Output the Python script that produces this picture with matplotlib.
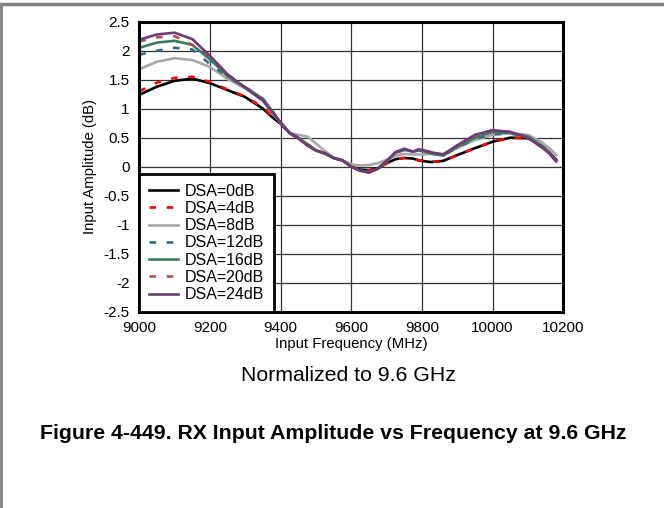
import numpy as np
import matplotlib
matplotlib.use("Agg")
from matplotlib import pyplot as plt
from matplotlib.lines import Line2D

plt.rcParams['font.family'] = ['Liberation Sans', 'DejaVu Sans']

freq = [9000, 9050, 9100, 9150, 9200, 9250, 9300, 9350, 9375, 9400, 9425, 9450, 9475,
        9500, 9525, 9550, 9575, 9600, 9625, 9650, 9675, 9700, 9725, 9750, 9775, 9790,
        9800, 9825, 9860, 9900, 9950, 10000, 10050, 10100, 10140, 10160, 10180]

dsa0 = [1.24, 1.38, 1.48, 1.52, 1.44, 1.32, 1.20, 1.00, 0.86, 0.74, 0.58, 0.49, 0.38,
        0.28, 0.23, 0.15, 0.11, 0.00, -0.05, -0.06, -0.03, 0.06, 0.13, 0.15, 0.14, 0.11,
        0.10, 0.08, 0.10, 0.20, 0.32, 0.43, 0.50, 0.49, 0.36, 0.25, 0.12]
dsa4 = [1.30, 1.45, 1.53, 1.55, 1.46, 1.33, 1.21, 1.02, 0.88, 0.75, 0.58, 0.49, 0.39,
        0.28, 0.23, 0.15, 0.11, 0.00, -0.04, -0.06, -0.03, 0.06, 0.13, 0.15, 0.14, 0.11,
        0.10, 0.08, 0.10, 0.20, 0.32, 0.43, 0.50, 0.49, 0.36, 0.25, 0.12]
dsa8 = [1.68, 1.81, 1.87, 1.84, 1.72, 1.51, 1.35, 1.14, 0.93, 0.76, 0.58, 0.55, 0.52,
        0.40, 0.27, 0.16, 0.11, 0.04, 0.02, 0.03, 0.06, 0.12, 0.19, 0.22, 0.21, 0.21,
        0.21, 0.22, 0.22, 0.32, 0.46, 0.55, 0.58, 0.55, 0.42, 0.32, 0.20]
dsa12 = [1.93, 2.00, 2.05, 2.02, 1.77, 1.55, 1.37, 1.17, 0.97, 0.76, 0.59, 0.50, 0.39,
         0.28, 0.23, 0.15, 0.11, 0.00, -0.07, -0.09, -0.04, 0.09, 0.24, 0.29, 0.26, 0.28,
         0.27, 0.23, 0.19, 0.33, 0.48, 0.56, 0.57, 0.52, 0.36, 0.24, 0.10]
dsa16 = [2.05, 2.14, 2.17, 2.10, 1.85, 1.56, 1.37, 1.17, 0.97, 0.76, 0.59, 0.50, 0.39,
         0.28, 0.23, 0.15, 0.11, 0.00, -0.07, -0.09, -0.04, 0.09, 0.24, 0.29, 0.26, 0.28,
         0.27, 0.23, 0.19, 0.34, 0.50, 0.60, 0.58, 0.52, 0.36, 0.24, 0.10]
dsa20 = [2.16, 2.23, 2.25, 2.10, 1.90, 1.59, 1.36, 1.14, 0.95, 0.76, 0.58, 0.49, 0.37,
         0.28, 0.23, 0.15, 0.11, 0.00, -0.07, -0.10, -0.03, 0.10, 0.25, 0.31, 0.26, 0.30,
         0.29, 0.25, 0.21, 0.36, 0.53, 0.62, 0.60, 0.50, 0.33, 0.23, 0.09]
dsa24 = [2.19, 2.28, 2.31, 2.20, 1.91, 1.59, 1.36, 1.14, 0.95, 0.76, 0.58, 0.49, 0.37,
         0.28, 0.23, 0.15, 0.11, 0.00, -0.07, -0.10, -0.03, 0.10, 0.25, 0.31, 0.26, 0.30,
         0.29, 0.25, 0.21, 0.37, 0.55, 0.63, 0.60, 0.50, 0.33, 0.23, 0.09]

labels = ["DSA=0dB", "DSA=4dB", "DSA=8dB", "DSA=12dB", "DSA=16dB", "DSA=20dB", "DSA=24dB"]
series = [dsa0, dsa4, dsa8, dsa12, dsa16, dsa20, dsa24]
colors = ["#000000", "#ff0000", "#a8a8a8", "#2f6a8a", "#3a7d5c", "#b05050", "#6e3a78"]
styles = ["-", (0, (2.5, 4)), "-", (0, (2.5, 4)), "-", (0, (2.5, 4)), "-"]

fig = plt.figure(figsize=(6.64, 5.08), dpi=100)
ax = fig.add_axes([0.2098, 0.3864, 0.6385, 0.5709])

for y, lab, c, ls in zip(series, labels, colors, styles):
    ax.plot(freq, y, color=c, linestyle=ls, linewidth=1.9, label=lab)

ax.set_xlim(9000, 10200)
ax.set_ylim(-2.5, 2.5)
ax.set_xticks(np.arange(9000, 10201, 200))
ax.set_yticks(np.arange(-2.5, 2.51, 0.5))
ax.set_yticklabels(["-2.5", "-2", "-1.5", "-1", "-0.5", "0", "0.5", "1", "1.5", "2", "2.5"])
ax.tick_params(length=0, labelsize=11, pad=7)
ax.grid(True, color="#333333", linewidth=0.9)
ax.set_axisbelow(True)
for s in ax.spines.values():
    s.set_linewidth(2.2)

ax.set_xlabel("Input Frequency (MHz)", fontsize=10.7, labelpad=1)
ax.set_ylabel("Input Amplitude (dB)", fontsize=10.7, labelpad=5)

leg = ax.legend(loc="lower left", fontsize=11.5, frameon=True, fancybox=False,
                borderaxespad=0, handlelength=1.8, labelspacing=0.14,
                borderpad=0.6, handletextpad=0.45)
leg.get_frame().set_edgecolor("black")
leg.get_frame().set_linewidth(2)
leg.get_frame().set_alpha(1)

fig.text(0.525, 0.26, "Normalized to 9.6 GHz", ha="center", va="center", fontsize=15.3)
fig.text(0.502, 0.146, "Figure 4-449. RX Input Amplitude vs Frequency at 9.6 GHz",
         ha="center", va="center", fontsize=15.3, fontweight="bold")

fig.add_artist(Line2D([0, 1], [0.993, 0.993], color="#808080", linewidth=2.5))
fig.add_artist(Line2D([0.001, 0.001], [0, 0.993], color="#808080", linewidth=2))

fig.savefig("out.png", dpi=100)
